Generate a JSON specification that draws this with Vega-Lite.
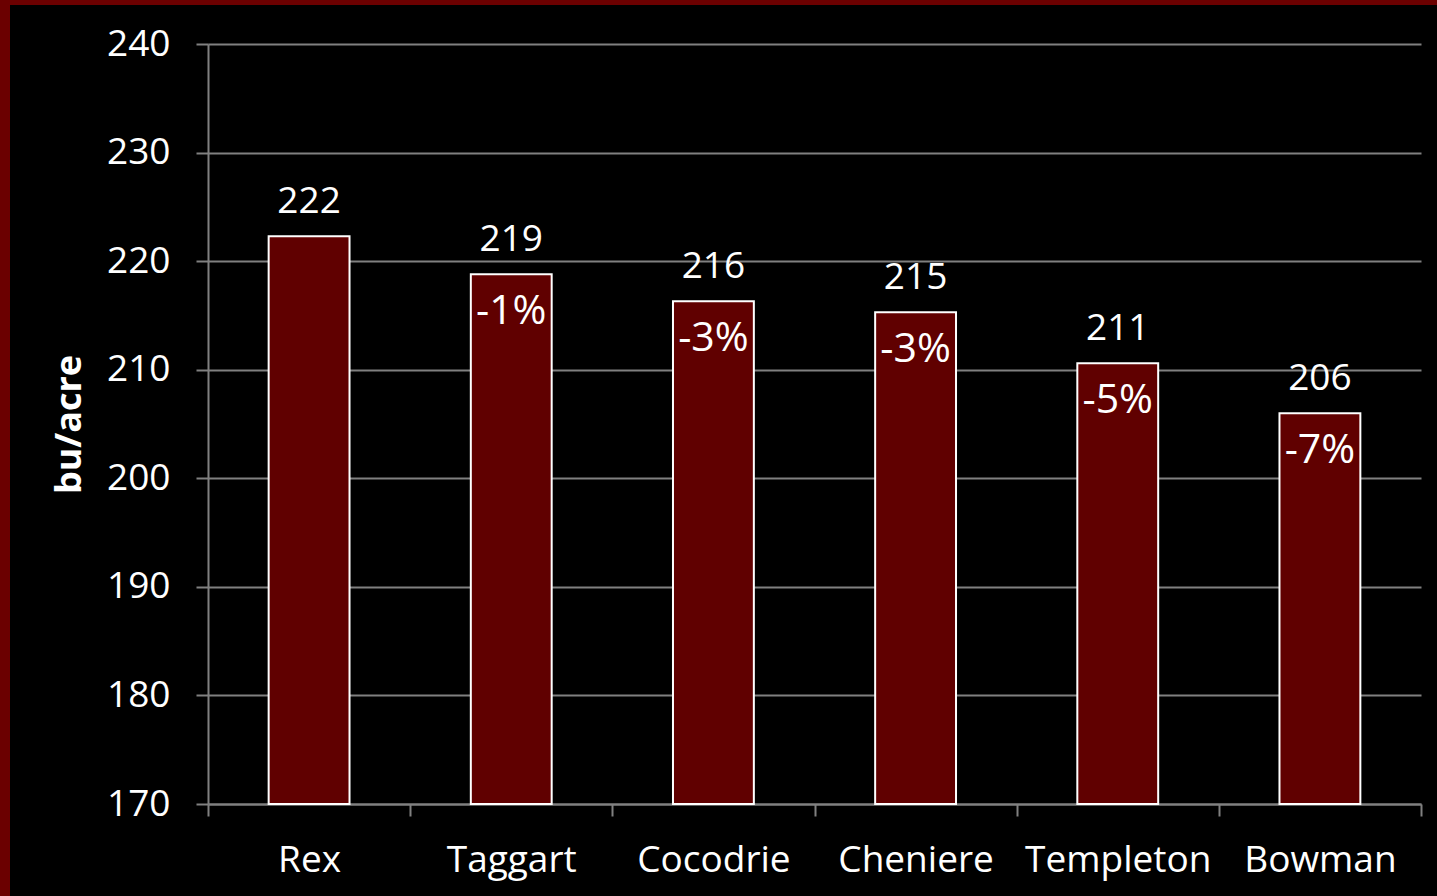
{
  "$schema": "https://vega.github.io/schema/vega-lite/v6.json",
  "background": "black",
  "padding": {"left": 0, "top": 0, "right": 0, "bottom": 0},
  "config": {"view": {"stroke": null}},
  "columns": 1,
  "spacing": 0,
  "concat": [
    {
      "width": 1437,
      "height": 5,
      "view": {"fill": "#6b0000", "stroke": null},
      "data": {"values": [{"k": ""}]},
      "mark": {"type": "text", "text": "", "fontSize": 1}
    },
    {
      "columns": 2,
      "align": "none",
      "spacing": 41,
      "concat": [
        {
          "width": 10,
          "height": 891,
          "view": {"fill": "#6b0000", "stroke": null},
          "data": {"values": [{"k": ""}]},
          "mark": {"type": "text", "text": "", "fontSize": 1}
        },
        {
          "width": 1213,
          "height": 799,
          "data": {
            "values": [
              {"variety": "Rex", "yield": 222.3, "pct": ""},
              {"variety": "Taggart", "yield": 218.8, "pct": "-1%"},
              {"variety": "Cocodrie", "yield": 216.3, "pct": "-3%"},
              {"variety": "Cheniere", "yield": 215.3, "pct": "-3%"},
              {"variety": "Templeton", "yield": 210.6, "pct": "-5%"},
              {"variety": "Bowman", "yield": 206.0, "pct": "-7%"}
            ]
          },
          "encoding": {
            "x": {
              "field": "variety",
              "type": "nominal",
              "sort": null,
              "scale": {"paddingInner": 0, "paddingOuter": 0},
              "axis": {
                "title": null,
                "labelAngle": 0,
                "labelLimit": 0,
                "tickBand": "extent",
                "tickSize": 12,
                "tickColor": "#808080",
                "tickWidth": 2,
                "domainColor": "#808080",
                "domainWidth": 2,
                "grid": false,
                "labelColor": "white",
                "labelFont": "Open Sans",
                "labelFontSize": 37,
                "labelPadding": 26
              }
            },
            "y": {
              "field": "yield",
              "type": "quantitative",
              "scale": {"domain": [170, 240], "zero": false, "nice": false, "range": [799, 39]},
              "axis": {
                "title": "bu/acre",
                "values": [170, 180, 190, 200, 210, 220, 230, 240],
                "tickSize": 12,
                "tickColor": "#808080",
                "tickWidth": 2,
                "domainColor": "#808080",
                "domainWidth": 2,
                "grid": true,
                "gridColor": "#808080",
                "gridWidth": 2,
                "labelColor": "white",
                "labelFont": "Open Sans",
                "labelFontSize": 37,
                "labelPadding": 26,
                "labelFlush": false,
                "labelOverlap": false,
                "titleColor": "white",
                "titleFont": "Open Sans",
                "titleFontSize": 36,
                "titleFontWeight": "bold",
                "titlePadding": 18
              }
            }
          },
          "layer": [
            {
              "mark": {"type": "bar", "fill": "#600000", "stroke": "white", "strokeWidth": 2, "width": {"band": 0.4}},
              "encoding": {"y2": {"datum": 170}}
            },
            {
              "mark": {"type": "text", "color": "white", "font": "Open Sans", "fontSize": 37, "baseline": "alphabetic", "dy": -23},
              "encoding": {"text": {"field": "yield", "type": "quantitative", "format": "d"}}
            },
            {
              "mark": {"type": "text", "color": "white", "font": "Open Sans", "fontSize": 41, "baseline": "alphabetic", "dy": 50},
              "encoding": {"text": {"field": "pct", "type": "nominal"}}
            }
          ]
        }
      ]
    }
  ]
}
